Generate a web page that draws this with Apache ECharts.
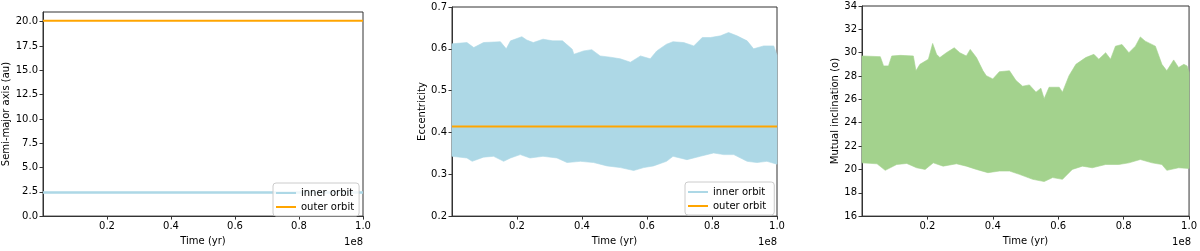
<!DOCTYPE html>
<html>
<head>
<meta charset="utf-8">
<script src="https://cdn.jsdelivr.net/npm/echarts@6/dist/echarts.min.js"></script>
<style>
html,body{margin:0;padding:0;background:#fff;}
#c{width:1200px;height:251px;}
</style>
</head>
<body>
<div id="c"></div>
<script>
// Time in units of 1e8 yr
const xTicks = [0.2, 0.4, 0.6, 0.8, 1.0];

// Panel 1: semi-major axis (au)
const semiTicks = [0, 2.5, 5, 7.5, 10, 12.5, 15, 17.5, 20];
const semiInnerT = [0.0, 0.1, 0.2, 0.3, 0.4, 0.5, 0.6, 0.7, 0.8, 0.9, 1.0];
const semiInner = [2.42, 2.43, 2.42, 2.43, 2.42, 2.43, 2.42, 2.43, 2.42, 2.43, 2.42];
const semiOuterT = [0.0, 1.0];
const semiOuter = [20.1, 20.1];

// Panel 2: eccentricity, inner orbit envelope
const eccUpT = [0.0, 0.046, 0.067, 0.097, 0.149, 0.167, 0.18, 0.215, 0.23, 0.25, 0.28, 0.31, 0.34, 0.37, 0.375, 0.405, 0.43, 0.456, 0.487, 0.518, 0.549, 0.58, 0.61, 0.63, 0.66, 0.68, 0.713, 0.744, 0.77, 0.795, 0.826, 0.851, 0.877, 0.908, 0.928, 0.959, 0.99, 1.0];
const eccUp = [0.612, 0.615, 0.603, 0.615, 0.617, 0.600, 0.619, 0.629, 0.621, 0.615, 0.623, 0.619, 0.619, 0.599, 0.587, 0.595, 0.598, 0.583, 0.580, 0.576, 0.568, 0.583, 0.576, 0.595, 0.611, 0.617, 0.615, 0.607, 0.627, 0.627, 0.631, 0.639, 0.631, 0.619, 0.600, 0.607, 0.607, 0.585];
const eccLowT = [0.0, 0.046, 0.062, 0.097, 0.128, 0.159, 0.18, 0.21, 0.24, 0.28, 0.323, 0.354, 0.395, 0.436, 0.477, 0.518, 0.559, 0.59, 0.62, 0.66, 0.68, 0.723, 0.764, 0.805, 0.836, 0.867, 0.908, 0.938, 0.969, 1.0];
const eccLow = [0.343, 0.339, 0.331, 0.341, 0.343, 0.331, 0.339, 0.347, 0.339, 0.343, 0.339, 0.328, 0.331, 0.328, 0.320, 0.316, 0.309, 0.316, 0.320, 0.331, 0.343, 0.335, 0.343, 0.351, 0.347, 0.347, 0.331, 0.328, 0.331, 0.324];
const eccOuterT = [0.0, 1.0];
const eccOuter = [0.414, 0.414];

// Panel 3: mutual inclination (deg) envelope
const incUpT = [0.0, 0.056, 0.066, 0.081, 0.091, 0.117, 0.157, 0.165, 0.177, 0.203, 0.216, 0.228, 0.238, 0.258, 0.282, 0.299, 0.319, 0.331, 0.35, 0.37, 0.38, 0.4, 0.42, 0.451, 0.471, 0.491, 0.512, 0.532, 0.547, 0.557, 0.572, 0.603, 0.613, 0.633, 0.654, 0.684, 0.709, 0.724, 0.745, 0.76, 0.775, 0.795, 0.816, 0.836, 0.851, 0.866, 0.897, 0.917, 0.932, 0.953, 0.968, 0.984, 0.994, 1.0];
const incUp = [29.72, 29.66, 28.87, 28.87, 29.72, 29.77, 29.72, 28.45, 29.0, 29.44, 30.79, 29.86, 29.58, 30.0, 30.42, 30.0, 29.72, 30.28, 29.58, 28.45, 28.03, 27.75, 28.37, 28.45, 27.61, 27.13, 27.24, 26.62, 26.96, 26.06, 27.04, 27.04, 26.62, 28.03, 29.0, 29.58, 29.86, 29.44, 30.0, 29.44, 30.56, 30.7, 30.0, 30.56, 31.35, 30.99, 30.56, 29.0, 28.45, 29.38, 28.73, 29.0, 28.87, 28.31];
const incLowT = [0.0, 0.046, 0.071, 0.106, 0.137, 0.167, 0.193, 0.218, 0.248, 0.289, 0.319, 0.35, 0.385, 0.42, 0.451, 0.481, 0.522, 0.557, 0.583, 0.613, 0.643, 0.674, 0.704, 0.745, 0.785, 0.816, 0.851, 0.887, 0.917, 0.932, 0.968, 1.0];
const incLow = [20.56, 20.48, 19.92, 20.42, 20.51, 20.14, 20.0, 20.56, 20.28, 20.48, 20.28, 20.0, 19.72, 19.86, 19.86, 19.58, 19.15, 18.96, 19.3, 19.15, 20.0, 20.28, 20.14, 20.42, 20.42, 20.56, 20.85, 20.56, 20.42, 19.92, 20.14, 20.08];

const C_BLUE = '#add8e6', C_ORANGE = '#ffa500', C_GREEN = '#a3d28d';
const FONT = 'DejaVu Sans';
const AX = '#333';

function pairs(t, v) { return t.map((x, i) => [x, v[i]]); }

function bandSeries(name, gi, upT, up, lowT, low, color) {
  return {
    name: name, type: 'custom', xAxisIndex: gi, yAxisIndex: gi,
    itemStyle: { color: color },
    data: [[upT[0], up[0]]],
    z: 1,
    renderItem: function (params, api) {
      const pts = [];
      for (let i = 0; i < upT.length; i++) pts.push(api.coord([upT[i], up[i]]));
      for (let i = lowT.length - 1; i >= 0; i--) pts.push(api.coord([lowT[i], low[i]]));
      return { type: 'polygon', shape: { points: pts }, style: { fill: color, stroke: color, lineWidth: 0.6 } };
    }
  };
}

const grids = [
  { left: 43, top: 12, width: 320, height: 207 },
  { left: 452, top: 7, width: 325, height: 212 },
  { left: 862, top: 6, width: 329, height: 213 }
];

function xAxis(gi) {
  return {
    type: 'value', gridIndex: gi, min: 0, max: 1, interval: 0.2,
    name: 'Time (yr)', nameLocation: 'middle', nameGap: 18,
    nameTextStyle: { fontFamily: FONT, fontSize: 10, color: '#000' },
    axisLine: { show: true, lineStyle: { color: AX, width: 1 } },
    axisTick: { show: true, length: 3.5, lineStyle: { color: AX }, customValues: xTicks },
    axisLabel: { fontFamily: FONT, fontSize: 10, color: '#000', margin: 5, customValues: xTicks,
      formatter: v => v.toFixed(1) },
    splitLine: { show: false }
  };
}

function yAxis(gi, name, gap, min, max, interval, ticks, dec) {
  return {
    type: 'value', gridIndex: gi, min: min, max: max, interval: interval,
    name: name, nameLocation: 'middle', nameRotate: 90, nameGap: gap,
    nameTextStyle: { fontFamily: FONT, fontSize: 10, color: '#000' },
    axisLine: { show: true, lineStyle: { color: AX, width: 1 } },
    axisTick: { show: true, length: 3.5, lineStyle: { color: AX }, customValues: ticks },
    axisLabel: { fontFamily: FONT, fontSize: 10, color: '#000', margin: 5, customValues: ticks,
      formatter: v => v.toFixed(dec) },
    splitLine: { show: false }
  };
}

const option = {
  animation: false,
  backgroundColor: '#fff',
  grid: grids.map(g => Object.assign({ show: true, borderColor: AX, borderWidth: 1, backgroundColor: 'transparent' }, g)),
  xAxis: [xAxis(0), xAxis(1), xAxis(2)],
  yAxis: [
    yAxis(0, 'Semi-major axis (au)', 30, 0, 21, 2.5, semiTicks, 1),
    yAxis(1, 'Eccentricity', 25, 0.2, 0.7, 0.1, [0.2, 0.3, 0.4, 0.5, 0.6, 0.7], 1),
    yAxis(2, 'Mutual inclination (o)', 22, 16, 34, 2, [16, 18, 20, 22, 24, 26, 28, 30, 32, 34], 0)
  ],
  legend: [
    {
      left: 273, top: 183, orient: 'vertical', itemWidth: 20, itemHeight: 2, itemGap: 4,
      padding: [5, 5, 4, 3], borderColor: '#ccc', borderWidth: 1, borderRadius: 3,
      backgroundColor: 'rgba(255,255,255,0.8)',
      textStyle: { fontFamily: FONT, fontSize: 10, color: '#000' },
      data: [{ name: 'inner orbit', icon: 'rect' }, { name: 'outer orbit', icon: 'rect' }],
      selectedMode: false
    },
    {
      left: 685, top: 182, orient: 'vertical', itemWidth: 20, itemHeight: 2, itemGap: 4,
      padding: [5, 5, 4, 3], borderColor: '#ccc', borderWidth: 1, borderRadius: 3,
      backgroundColor: 'rgba(255,255,255,0.8)',
      textStyle: { fontFamily: FONT, fontSize: 10, color: '#000' },
      data: [{ name: 'inner orbit ', icon: 'rect' }, { name: 'outer orbit ', icon: 'rect' }],
      selectedMode: false
    }
  ],
  graphic: [
    { type: 'text', right: 1200 - 363, top: 237, style: { text: '1e8', fontFamily: FONT, fontSize: 10, fill: '#000' } },
    { type: 'text', right: 1200 - 777, top: 237, style: { text: '1e8', fontFamily: FONT, fontSize: 10, fill: '#000' } },
    { type: 'text', right: 1200 - 1191, top: 237, style: { text: '1e8', fontFamily: FONT, fontSize: 10, fill: '#000' } }
  ],
  series: [
    { name: 'inner orbit', type: 'line', xAxisIndex: 0, yAxisIndex: 0, data: pairs(semiInnerT, semiInner),
      showSymbol: false, lineStyle: { color: C_BLUE, width: 2.5 }, itemStyle: { color: C_BLUE } },
    { name: 'outer orbit', type: 'line', xAxisIndex: 0, yAxisIndex: 0, data: pairs(semiOuterT, semiOuter),
      showSymbol: false, lineStyle: { color: C_ORANGE, width: 2 }, itemStyle: { color: C_ORANGE } },
    bandSeries('inner orbit ', 1, eccUpT, eccUp, eccLowT, eccLow, C_BLUE),
    { name: 'outer orbit ', type: 'line', xAxisIndex: 1, yAxisIndex: 1, data: pairs(eccOuterT, eccOuter),
      showSymbol: false, z: 3, lineStyle: { color: C_ORANGE, width: 2 }, itemStyle: { color: C_ORANGE } },
    bandSeries('mutual inclination', 2, incUpT, incUp, incLowT, incLow, C_GREEN)
  ]
};

const chart = echarts.init(document.getElementById('c'), null, { renderer: 'canvas' });
chart.setOption(option);
</script>
</body>
</html>
